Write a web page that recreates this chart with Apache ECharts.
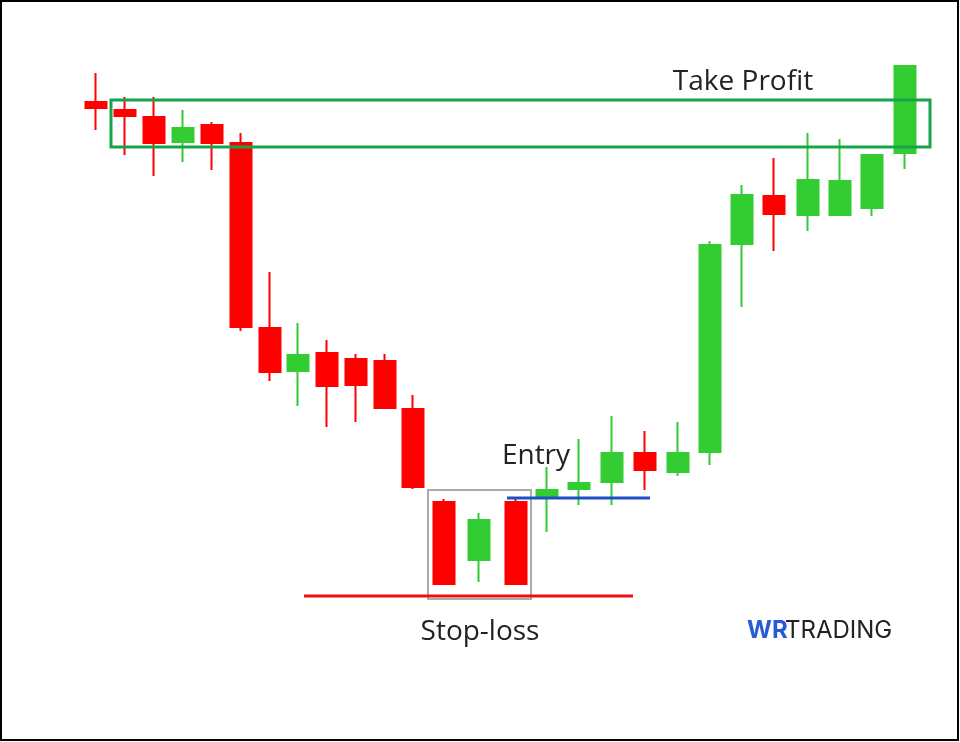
<!DOCTYPE html>
<html><head><meta charset="utf-8">
<script src="https://cdn.jsdelivr.net/npm/echarts@6/dist/echarts.min.js"></script>
<style>html,body{margin:0;background:#fff}#chart{width:960px;height:742px}</style>
</head><body><div id="chart"></div>
<script>
// candle centres along the time axis (chart units)
const slots = [96,125,154,183,212,241,270,298,327,356,385,413,444,479,516,547,579,612,645,678,710,742,774,808,840,872,905];
// prices (chart units, higher = up)
const opens  = [640,632,625,600,617,599,414,371,389,383,381,333,240,182,240,245,253,260,289,270,290,498,546,527,527,534,589];
const closes = [634,626,599,614,599,415,370,387,356,357,334,255,158,222,158,252,259,289,272,289,497,547,528,562,561,587,676];
const lows   = [612,587,566,580,572,411,361,336,315,320,334,253,158,160,158,210,237,237,252,266,277,435,491,511,527,526,573];
const highs  = [669,645,645,632,620,609,470,419,402,388,388,347,243,229,243,275,303,326,311,320,501,557,584,609,603,587,677];

const chart = echarts.init(document.getElementById('chart'));
const candles = slots.map((x, i) => [x, opens[i], closes[i], lows[i], highs[i]]);

chart.setOption({
    animation: false,
    grid: { left: 0, right: 0, top: 0, bottom: 0 },
    xAxis: { type: 'value', min: 0, max: 960, show: false },
    yAxis: { type: 'value', min: 0, max: 742, show: false },
    series: [{
        type: 'candlestick',
        data: candles,
        barWidth: 22,
        itemStyle: {
            color: '#33cc33',
            color0: '#ff0000',
            borderColor: '#33cc33',
            borderColor0: '#ff0000',
            borderWidth: 2
        }
    }],
    graphic: [
        { type: 'rect', shape: { x: 1, y: 1, width: 957, height: 739 }, style: { fill: 'none', stroke: '#000', lineWidth: 2 } },
        { type: 'rect', z: 10, shape: { x: 111, y: 100, width: 819, height: 47 }, style: { fill: 'none', stroke: '#17a34a', lineWidth: 3 } },
        { type: 'rect', z: 10, shape: { x: 428, y: 490, width: 103, height: 109 }, style: { fill: 'none', stroke: '#aaaaaa', lineWidth: 2 } },
        { type: 'line', z: 10, shape: { x1: 507, y1: 498, x2: 650, y2: 498 }, style: { stroke: '#1f4fc4', lineWidth: 3 } },
        { type: 'line', z: 10, shape: { x1: 304, y1: 596, x2: 633, y2: 596 }, style: { stroke: '#ee1111', lineWidth: 3 } },
        { type: 'text', x: 743, y: 82, style: { text: 'Take Profit', font: '28px "Open Sans"', fill: '#222', align: 'center', verticalAlign: 'middle' } },
        { type: 'text', x: 536, y: 456, style: { text: 'Entry', font: '28px "Open Sans"', fill: '#222', align: 'center', verticalAlign: 'middle' } },
        { type: 'text', x: 480, y: 632, style: { text: 'Stop-loss', font: '28px "Open Sans"', fill: '#222', align: 'center', verticalAlign: 'middle' } },
        { type: 'text', x: 747, y: 631, style: { text: 'WR', font: 'bold 24px Inter', fill: '#2a5bd7', verticalAlign: 'middle' } },
        { type: 'text', x: 785, y: 631, style: { text: 'TRADING', font: '24px Inter', fill: '#222', verticalAlign: 'middle' } }
    ]
});
</script></body></html>
